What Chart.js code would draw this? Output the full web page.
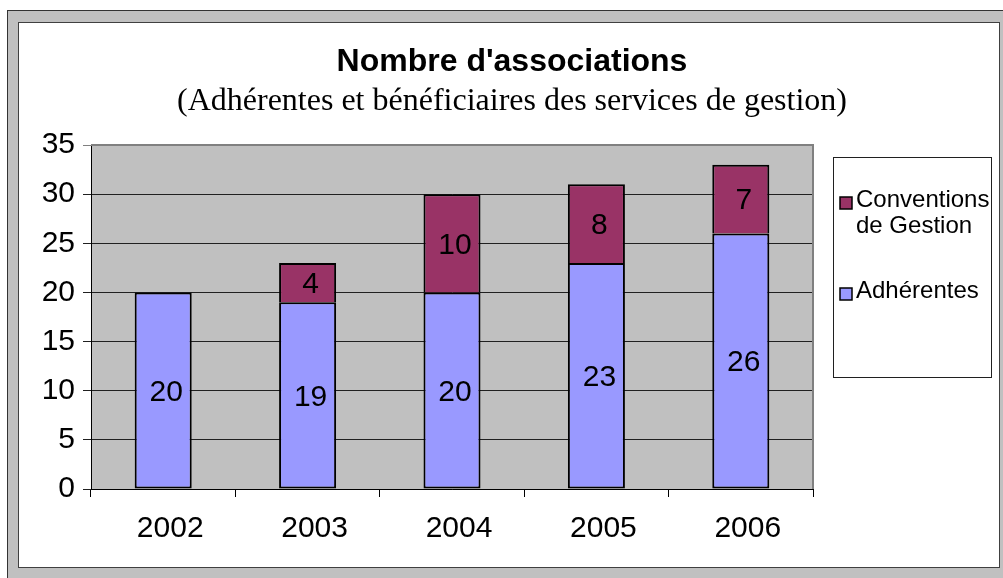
<!DOCTYPE html>
<html>
<head>
<meta charset="utf-8">
<script src="https://cdn.jsdelivr.net/npm/chart.js@4.4.1/dist/chart.umd.min.js"></script>
<style>
  body { margin: 0; background: #fff; overflow: hidden; }
  #frame { position: absolute; left: 7px; top: 10px; width: 1010px; height: 580px;
           background: #c0c0c0; border-left: 1px solid #333; border-top: 1px solid #333; }
  #inner { position: absolute; left: 18px; top: 22px; width: 980px; height: 544px;
           background: #fff; border: 1px solid #404040; }
  #myChart { position: absolute; left: 0; top: 0; }
</style>
</head>
<body>
<div id="frame"></div>
<div id="inner"></div>
<canvas id="myChart" width="1003" height="578"></canvas>
<script>
// data
var years = ['2002', '2003', '2004', '2005', '2006'];
var adherentes = [20, 19, 20, 23, 26];
var conventions = [null, 4, 10, 8, 7];
var seriesNames = ['Adhérentes', 'Conventions de Gestion'];
var legendLines = [['Adhérentes'], ['Conventions', 'de Gestion']];
var titleText = "Nombre d'associations";
var subtitleText = '(Adhérentes et bénéficiaires des services de gestion)';

var sans = "'Liberation Sans', Arial, sans-serif";
var serif = "'Liberation Serif', 'Times New Roman', serif";

// grey plot background + border
var plotBg = {
    id: 'plotBg',
    beforeDraw: function(chart) {
        var a = chart.chartArea, c = chart.ctx;
        c.save();
        c.fillStyle = '#c0c0c0';
        c.fillRect(a.left, a.top, a.right - a.left, a.bottom - a.top);
        c.restore();
    },
    beforeDatasetsDraw: function(chart) {
        var a = chart.chartArea, c = chart.ctx;
        c.save();
        c.strokeStyle = '#808080';
        c.lineWidth = 2;
        c.beginPath();
        c.moveTo(a.left, a.top);
        c.lineTo(a.right, a.top);
        c.lineTo(a.right, a.bottom);
        c.stroke();
        c.restore();
    }
};

// values written inside the bars
var barLabels = {
    id: 'barLabels',
    afterDatasetsDraw: function(chart) {
        var c = chart.ctx;
        c.save();
        c.font = '30px ' + sans;
        c.fillStyle = '#000';
        c.textAlign = 'center';
        c.textBaseline = 'middle';
        chart.data.datasets.forEach(function(ds, i) {
            chart.getDatasetMeta(i).data.forEach(function(bar, j) {
                if (ds.data[j] == null) return;
                c.fillText(ds.data[j], bar.x + 3, (bar.y + bar.base) / 2 + 2);
            });
        });
        c.restore();
    }
};

// title, subtitle and boxed legend
var texts = {
    id: 'texts',
    afterDraw: function(chart) {
        var c = chart.ctx;
        c.save();
        c.fillStyle = '#000';
        c.textAlign = 'center';
        c.textBaseline = 'alphabetic';
        c.font = 'bold 32px ' + sans;
        c.fillText(titleText, 512, 71);
        c.font = '32px ' + serif;
        c.fillText(subtitleText, 512, 110);

        // legend box
        c.fillStyle = '#fff';
        c.fillRect(833, 157, 158, 220);
        c.strokeStyle = '#202020';
        c.lineWidth = 1;
        c.strokeRect(833.5, 157.5, 158, 220);
        c.font = '24px ' + sans;
        c.textAlign = 'left';
        var rows = [{ ds: 1, box: 197, base: 207 }, { ds: 0, box: 288, base: 298 }];
        rows.forEach(function(r) {
            var ds = chart.data.datasets[r.ds];
            c.fillStyle = ds.backgroundColor;
            c.fillRect(840, r.box, 12, 12);
            c.strokeStyle = '#000';
            c.lineWidth = 1.5;
            c.strokeRect(840, r.box, 12, 12);
            c.fillStyle = '#000';
            legendLines[r.ds].forEach(function(line, k) {
                c.fillText(line, 856, r.base + k * 26);
            });
        });
        c.restore();
    }
};

var ctx = document.getElementById('myChart').getContext('2d');
var myChart = new Chart(ctx, {
    type: 'bar',
    data: {
        labels: years,
        datasets: [{
            label: seriesNames[0],
            data: adherentes,
            backgroundColor: '#9999ff',
            borderColor: '#000',
            borderWidth: 2,
            borderSkipped: false
        }, {
            label: seriesNames[1],
            data: conventions,
            backgroundColor: '#993366',
            borderColor: '#000',
            borderWidth: 2,
            borderSkipped: 'bottom'
        }]
    },
    options: {
        responsive: false,
        animation: false,
        datasets: { bar: { barPercentage: 0.395, categoryPercentage: 1 } },
        layout: { padding: { top: 145, right: 190, bottom: 0, left: 0 } },
        plugins: {
            legend: { display: false },
            tooltip: { enabled: false }
        },
        scales: {
            x: {
                stacked: true,
                grid: { offset: true, drawOnChartArea: false, drawTicks: true, tickLength: 8, color: '#000' },
                border: { display: true, color: '#000', width: 1 },
                ticks: { color: '#000', font: { family: sans, size: 30 }, padding: 14, labelOffset: 7 },
                afterFit: function(s) { s.height = 89; }
            },
            y: {
                stacked: true,
                min: 0,
                max: 35,
                grid: {
                    tickLength: 8,
                    color: function(c) { return c.tick && c.tick.value === 35 ? '#808080' : '#202020'; }
                },
                border: { display: true, color: '#000', width: 1 },
                ticks: { stepSize: 5, color: '#000', font: { family: sans, size: 30 }, padding: 8 },
                afterFit: function(s) { s.width = 91; }
            }
        }
    },
    plugins: [plotBg, barLabels, texts]
});
</script>
</body>
</html>
